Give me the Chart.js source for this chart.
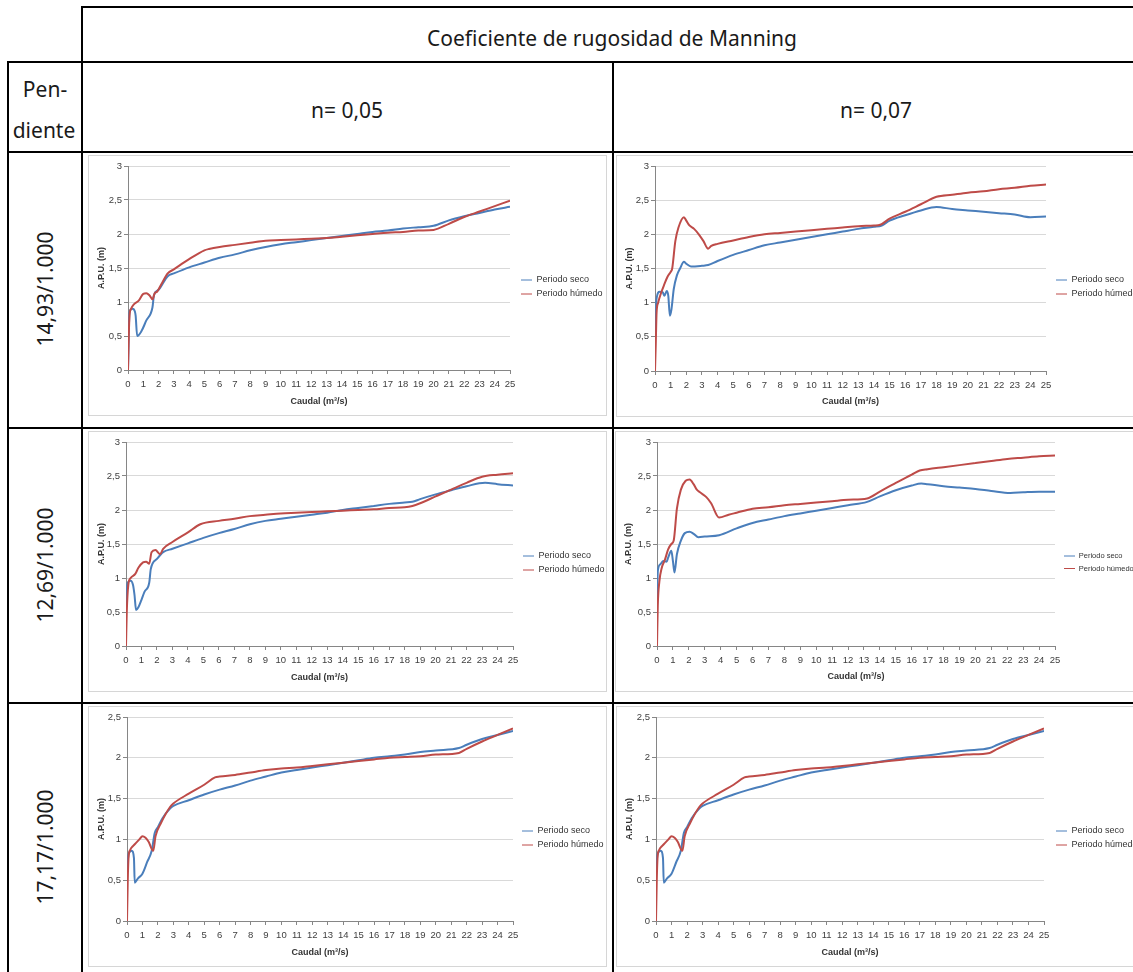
<!DOCTYPE html>
<html lang="es">
<head>
<meta charset="utf-8">
<title>A.P.U. según pendiente y coeficiente de Manning</title>
<script src="https://cdn.jsdelivr.net/npm/chart.js@4.4.1/dist/chart.umd.min.js"></script>
<style>
  html, body { margin: 0; padding: 0; background: #fff; }
  body { width: 1133px; height: 972px; overflow: hidden; position: relative; font-family: "Noto Sans", sans-serif; color: #1a1a1a; }
  .hline, .vline { position: absolute; background: #000; }
  .hline { height: 2px; }
  .vline { width: 2px; }
  .txt { position: absolute; font-size: 21px; line-height: 1; white-space: nowrap; transform: translate(-50%, -50%); }
  .txt.rot { transform: translate(-50%, -50%) rotate(-90deg); }
  .panel { position: absolute; border: 1px solid #d6d6d6; box-sizing: border-box; background: #fff; }
  .panel canvas { display: block; }
</style>
</head>
<body>
<script>
// encabezados de la tabla
const tituloTabla = 'Coeficiente de rugosidad de Manning';
const rugosidad = ['n= 0,05', 'n= 0,07'];
const pendientes = ['14,93/1.000', '12,69/1.000', '17,17/1.000'];
const series = ['Periodo seco', 'Periodo húmedo'];

// pendiente 14,93/1.000 - n = 0,05
const qSeco_14_05   = [0, 0.1, 0.3, 0.45, 0.5, 0.6, 0.9, 1.2, 1.6, 1.7, 2.0, 2.6, 3, 4, 5, 6, 7, 8, 9, 10, 11, 12, 13, 14, 15, 16, 17, 18, 19, 20, 21, 22, 23, 24, 25];
const apuSeco_14_05 = [0, 0.86, 0.9, 0.86, 0.8, 0.5, 0.58, 0.73, 0.92, 1.1, 1.18, 1.38, 1.42, 1.51, 1.58, 1.65, 1.70, 1.76, 1.81, 1.85, 1.88, 1.91, 1.94, 1.97, 2.0, 2.03, 2.05, 2.08, 2.10, 2.12, 2.2, 2.26, 2.31, 2.36, 2.4];
const qHum_14_05    = [0, 0.05, 0.1, 0.2, 0.4, 0.7, 1.0, 1.2, 1.4, 1.6, 1.75, 1.9, 2.2, 2.6, 3, 4, 5, 5.3, 6, 7, 8, 9, 10, 11, 12, 13, 14, 15, 16, 17, 18, 19, 20, 21, 22, 23, 24, 25];
const apuHum_14_05  = [0, 0.5, 0.8, 0.9, 0.97, 1.02, 1.12, 1.13, 1.1, 1.04, 1.13, 1.15, 1.27, 1.42, 1.48, 1.63, 1.76, 1.78, 1.81, 1.84, 1.87, 1.9, 1.91, 1.92, 1.93, 1.94, 1.96, 1.98, 2.0, 2.02, 2.03, 2.05, 2.06, 2.15, 2.25, 2.33, 2.41, 2.49];

// pendiente 14,93/1.000 - n = 0,07
const qSeco_14_07   = [0, 0.1, 0.3, 0.5, 0.6, 0.75, 0.85, 0.95, 1.05, 1.2, 1.4, 1.6, 1.85, 2.0, 2.3, 3.0, 3.4, 4, 5, 6, 7, 8, 9, 10, 11, 12, 13, 14, 14.5, 15, 16, 17, 18, 19, 20, 21, 22, 23, 24, 25];
const apuSeco_14_07 = [0.5, 1.06, 1.16, 1.15, 1.1, 1.17, 1.1, 0.81, 0.9, 1.2, 1.4, 1.5, 1.6, 1.57, 1.53, 1.54, 1.55, 1.61, 1.7, 1.77, 1.84, 1.88, 1.92, 1.96, 2.0, 2.04, 2.08, 2.11, 2.13, 2.2, 2.28, 2.35, 2.4, 2.37, 2.35, 2.33, 2.31, 2.29, 2.25, 2.26];
const qHum_14_07    = [0, 0.05, 0.1, 0.2, 0.4, 0.6, 0.8, 1.0, 1.1, 1.3, 1.5, 1.85, 2.0, 2.2, 2.5, 2.8, 3.1, 3.4, 3.6, 4, 5, 6, 7, 8, 9, 10, 11, 12, 13, 14, 14.4, 15, 16, 17, 18, 19, 20, 21, 22, 23, 24, 25];
const apuHum_14_07  = [0, 0.4, 0.85, 1.0, 1.15, 1.27, 1.38, 1.45, 1.5, 1.9, 2.1, 2.25, 2.2, 2.13, 2.08, 2.0, 1.9, 1.79, 1.83, 1.86, 1.91, 1.96, 2.0, 2.02, 2.04, 2.06, 2.08, 2.1, 2.12, 2.13, 2.14, 2.23, 2.33, 2.44, 2.55, 2.58, 2.61, 2.63, 2.66, 2.68, 2.71, 2.73];

// pendiente 12,69/1.000 - n = 0,05
const qSeco_12_05   = [0, 0.1, 0.3, 0.45, 0.55, 0.65, 0.8, 1.0, 1.2, 1.5, 1.6, 2.0, 2.4, 3, 4, 5, 6, 7, 8, 9, 10, 11, 12, 13, 14, 15, 16, 17, 18, 18.5, 19, 20, 21, 22, 23.2, 24, 25];
const apuSeco_12_05 = [0.6, 0.93, 0.96, 0.9, 0.75, 0.53, 0.57, 0.68, 0.8, 0.93, 1.13, 1.28, 1.38, 1.43, 1.51, 1.59, 1.66, 1.72, 1.79, 1.84, 1.87, 1.9, 1.93, 1.96, 2.0, 2.03, 2.06, 2.09, 2.11, 2.12, 2.16, 2.23, 2.29, 2.35, 2.4, 2.38, 2.36];
const qHum_12_05    = [0, 0.05, 0.15, 0.3, 0.6, 0.8, 1.1, 1.3, 1.5, 1.65, 1.9, 2.2, 2.4, 3, 4, 4.8, 6, 7, 8, 9, 10, 11, 12, 13, 14, 15, 16, 17, 18, 18.5, 19, 20, 21, 22, 23, 24, 25];
const apuHum_12_05  = [0, 0.5, 0.9, 1.0, 1.06, 1.15, 1.23, 1.24, 1.21, 1.38, 1.41, 1.35, 1.43, 1.53, 1.67, 1.79, 1.84, 1.87, 1.91, 1.93, 1.95, 1.96, 1.97, 1.98, 1.99, 2.0, 2.01, 2.03, 2.04, 2.06, 2.1, 2.2, 2.3, 2.4, 2.49, 2.52, 2.54];

// pendiente 12,69/1.000 - n = 0,07
const qSeco_12_07   = [0, 0.05, 0.2, 0.4, 0.6, 0.7, 0.9, 1.0, 1.1, 1.25, 1.5, 1.75, 2.05, 2.3, 2.6, 3, 3.9, 5, 6, 7, 8, 9, 10, 11, 12, 13.2, 14, 15, 16, 16.6, 17, 18, 19, 20, 21, 22.2, 23, 24, 25];
const apuSeco_12_07 = [0.55, 1.1, 1.2, 1.25, 1.24, 1.3, 1.4, 1.25, 1.08, 1.35, 1.55, 1.66, 1.68, 1.65, 1.6, 1.61, 1.63, 1.73, 1.81, 1.86, 1.91, 1.95, 1.99, 2.03, 2.07, 2.12, 2.2, 2.29, 2.36, 2.39, 2.38, 2.35, 2.33, 2.31, 2.28, 2.25, 2.26, 2.27, 2.27];
const qHum_12_07    = [0, 0.05, 0.15, 0.3, 0.5, 0.7, 0.9, 1.05, 1.25, 1.5, 1.8, 2.05, 2.3, 2.5, 2.7, 3.1, 3.4, 3.9, 4.5, 5, 6, 7, 8, 9, 10, 11, 12, 13.2, 14, 15, 16, 16.5, 17, 18, 19, 20, 21, 22, 23, 24, 25];
const apuHum_12_07  = [0, 0.6, 0.95, 1.15, 1.27, 1.42, 1.5, 1.55, 2.02, 2.3, 2.43, 2.45, 2.38, 2.3, 2.26, 2.19, 2.1, 1.89, 1.93, 1.96, 2.02, 2.04, 2.07, 2.09, 2.11, 2.13, 2.15, 2.17, 2.27, 2.4, 2.52, 2.58, 2.6, 2.63, 2.66, 2.69, 2.72, 2.75, 2.77, 2.79, 2.8];

// pendiente 17,17/1.000 (igual para n = 0,05 y n = 0,07)
const qSeco_17   = [0, 0.1, 0.3, 0.45, 0.5, 0.7, 1.0, 1.3, 1.6, 1.8, 2, 2.3, 2.8, 3, 4, 5, 6, 7, 8, 9, 10, 11, 12, 13, 14, 15, 16, 17, 18, 19, 20, 21.5, 22, 23, 24, 25];
const apuSeco_17 = [0.6, 0.82, 0.86, 0.77, 0.47, 0.52, 0.58, 0.72, 0.86, 1.08, 1.15, 1.26, 1.38, 1.41, 1.48, 1.55, 1.61, 1.66, 1.72, 1.77, 1.82, 1.85, 1.88, 1.91, 1.94, 1.97, 2.0, 2.02, 2.04, 2.07, 2.09, 2.12, 2.16, 2.23, 2.28, 2.33];
const qHum_17    = [0, 0.05, 0.1, 0.2, 0.4, 0.6, 0.8, 1.0, 1.2, 1.4, 1.7, 1.85, 2.2, 2.8, 3, 4, 5, 5.7, 6, 7, 8, 9, 10, 11, 12, 13, 14, 15, 16, 17, 18, 19, 20, 21.5, 22, 23, 24, 25];
const apuHum_17  = [0, 0.5, 0.78, 0.87, 0.92, 0.96, 1.0, 1.04, 1.02, 0.97, 0.86, 1.04, 1.2, 1.4, 1.44, 1.56, 1.67, 1.76, 1.77, 1.79, 1.82, 1.85, 1.87, 1.88, 1.9, 1.92, 1.94, 1.96, 1.98, 2.0, 2.01, 2.02, 2.04, 2.06, 2.11, 2.2, 2.28, 2.36];

const colorSeco = '#4a7ebb';
const colorHum = '#be4b48';
const fuenteGrafico = '"Liberation Sans Narrow", "Arial Narrow", "Liberation Sans", Arial, sans-serif';

Chart.defaults.font.family = fuenteGrafico;
Chart.defaults.color = '#404040';

// box = marco de la imagen, plot = bordes del área de trazado (px de página)
const panels = [
  { box: [88, 155, 519, 261], plot: [128, 166, 510, 370], legendX: 521, legendY: 280, legendSize: 9, yMax: 3,
    seco: [qSeco_14_05, apuSeco_14_05], hum: [qHum_14_05, apuHum_14_05] },
  { box: [616, 155, 530, 262], plot: [655, 166, 1046, 371], legendX: 1056, legendY: 280, legendSize: 9, yMax: 3,
    seco: [qSeco_14_07, apuSeco_14_07], hum: [qHum_14_07, apuHum_14_07] },
  { box: [88, 431, 519, 261], plot: [126, 442, 513, 646], legendX: 523, legendY: 556, legendSize: 9, yMax: 3,
    seco: [qSeco_12_05, apuSeco_12_05], hum: [qHum_12_05, apuHum_12_05] },
  { box: [615, 431, 530, 261], plot: [657, 442, 1055, 646], legendX: 1064, legendY: 556, legendSize: 7.5, yMax: 3,
    seco: [qSeco_12_07, apuSeco_12_07], hum: [qHum_12_07, apuHum_12_07] },
  { box: [88, 706, 519, 261], plot: [127, 717, 513, 921], legendX: 522, legendY: 831, legendSize: 9, yMax: 2.5,
    seco: [qSeco_17, apuSeco_17], hum: [qHum_17, apuHum_17] },
  { box: [616, 706, 530, 261], plot: [656, 717, 1044, 921], legendX: 1056, legendY: 831, legendSize: 9, yMax: 2.5,
    seco: [qSeco_17, apuSeco_17], hum: [qHum_17, apuHum_17] }
];

function el(cls, css, text) {
  const d = document.createElement('div');
  d.className = cls;
  Object.assign(d.style, css);
  if (text) d.textContent = text;
  document.body.appendChild(d);
  return d;
}

// lineas de la tabla
[[81, 6, 1060], [7, 61, 1134], [7, 151, 1134], [7, 427, 1134], [7, 702, 1134]].forEach(([x, y, w]) =>
  el('hline', { left: x + 'px', top: y + 'px', width: w + 'px' }));
[[7, 61, 911], [81, 6, 966], [612, 61, 911]].forEach(([x, y, h]) =>
  el('vline', { left: x + 'px', top: y + 'px', height: h + 'px' }));

el('txt', { left: '612px', top: '38px' }, tituloTabla);
el('txt', { left: '45px', top: '89px' }, 'Pen-');
el('txt', { left: '44px', top: '130px' }, 'diente');
el('txt', { left: '347px', top: '110px' }, rugosidad[0]);
el('txt', { left: '876px', top: '110px' }, rugosidad[1]);
[289, 565, 847].forEach((cy, i) => el('txt rot', { left: '45px', top: cy + 'px' }, pendientes[i]));

const toPoints = (xs, ys) => xs.map((x, i) => ({ x: x, y: ys[i] }));
const coma = v => String(v).replace('.', ',');

// ancho natural de la leyenda tal como lo calcula Chart.js
const medidor = document.createElement('canvas').getContext('2d');
function anchoLeyenda(fs, pad, lineW) {
  medidor.font = fs + 'px ' + fuenteGrafico;
  const texto = Math.max(...series.map(s => medidor.measureText(s).width));
  return pad + lineW + fs / 2 + texto + 10;
}

function buildChart(p) {
  const [bx, by, bw, bh] = p.box;
  const wrap = el('panel', { left: bx + 'px', top: by + 'px', width: bw + 'px', height: bh + 'px' });
  const canvas = document.createElement('canvas');
  const W = bw - 2, H = bh - 2;
  canvas.width = W;
  canvas.height = H;
  wrap.appendChild(canvas);

  const cx = bx + 1, cy = by + 1;
  const L = p.plot[0] - cx, T = p.plot[1] - cy, R = p.plot[2] - cx, B = p.plot[3] - cy;
  const pad = 5, fs = p.legendSize, lineW = 11;
  const colH = 2 * (fs + pad);
  const padBottom = H - (2 * (p.legendY - cy) - fs - T - pad + colH);
  const gap = p.legendX - p.plot[2] - pad;
  const libre = W - R - gap;
  const padRight = Math.max(0, libre - (anchoLeyenda(fs, pad, lineW) - 3));
  const legendW = libre - padRight;

  new Chart(canvas, {
    type: 'scatter',
    data: {
      datasets: [
        { label: series[0], data: toPoints(p.seco[0], p.seco[1]), borderColor: colorSeco, backgroundColor: colorSeco,
          order: 1, xAxisID: 'x', yAxisID: 'y' },
        { label: series[1], data: toPoints(p.hum[0], p.hum[1]), borderColor: colorHum, backgroundColor: colorHum,
          order: 0, xAxisID: 'x', yAxisID: 'y' }
      ]
    },
    options: {
      responsive: false,
      animation: false,
      events: [],
      showLine: true,
      layout: { padding: { left: 0, top: T, right: padRight, bottom: padBottom } },
      elements: {
        point: { radius: 0 },
        line: { borderWidth: 2, cubicInterpolationMode: 'monotone' }
      },
      plugins: {
        tooltip: { enabled: false },
        legend: {
          position: 'right',
          maxWidth: legendW,
          labels: {
            usePointStyle: true,
            pointStyle: 'line',
            pointStyleWidth: lineW,
            padding: pad,
            color: '#333',
            font: { size: fs },
            sort: (a, b) => a.datasetIndex - b.datasetIndex
          }
        }
      },
      scales: {
        x: {
          type: 'linear', min: 0, max: 25,
          afterFit: s => { s.height = H - padBottom - B; },
          border: { color: '#868686' },
          grid: { drawOnChartArea: false, tickLength: 4, tickColor: '#868686' },
          ticks: { stepSize: 1, autoSkip: false, maxRotation: 0, minRotation: 0, padding: 5, font: { size: 9.5 } },
          title: { display: true, text: 'Caudal (m³/s)', color: '#333', font: { size: 9, weight: 'bold' }, padding: { top: 0, bottom: 1 } }
        },
        y: {
          type: 'linear', min: 0, max: p.yMax,
          afterFit: s => { s.width = L; },
          border: { color: '#868686' },
          grid: { color: '#d9d9d9', tickLength: 4, tickColor: '#868686' },
          ticks: { stepSize: 0.5, padding: 2, font: { size: 9.5 }, callback: coma },
          title: { display: true, text: 'A.P.U. (m)', color: '#333', font: { size: 9, weight: 'bold' }, padding: { top: 7, bottom: 0 } }
        },
        // separa la leyenda del área de trazado
        gap: {
          type: 'linear', position: 'right', display: true,
          afterFit: s => { s.width = gap; },
          border: { display: false },
          grid: { display: false },
          ticks: { display: false }
        }
      }
    }
  });
}

panels.forEach(buildChart);
</script>
</body>
</html>
